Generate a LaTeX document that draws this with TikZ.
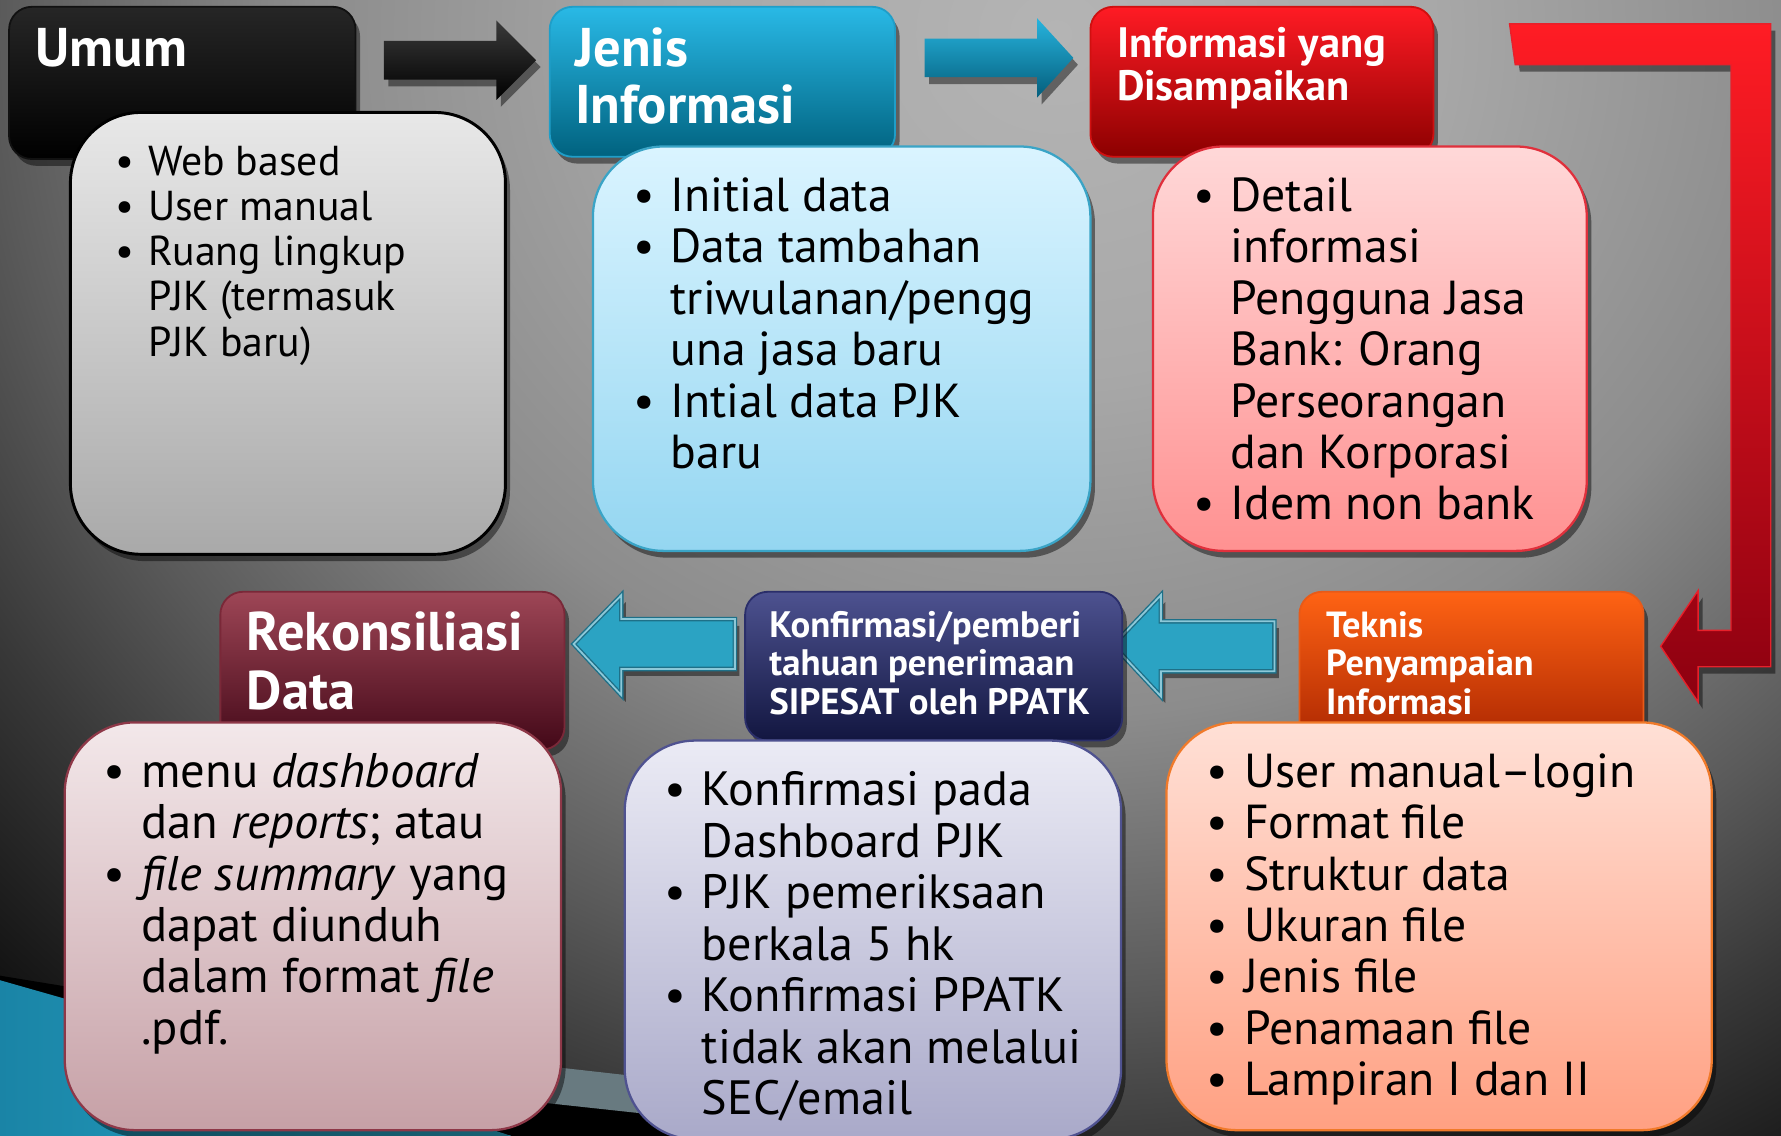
\documentclass[tikz,border=0pt]{standalone}
\usepackage{fontspec}
\setmainfont{PT Sans}
\usetikzlibrary{shadows,fit}
\definecolor{bgA}{HTML}{B4B4B4}
\definecolor{bgB}{HTML}{A8A8A8}
\definecolor{bgC}{HTML}{8C8C8C}
\definecolor{bgD}{HTML}{5A5A5A}
\definecolor{bgE}{HTML}{383838}
\definecolor{bgF}{HTML}{101010}
\definecolor{swA}{HTML}{1A84A6}
\definecolor{swB}{HTML}{2CB2D2}
\definecolor{swgray}{HTML}{687A80}
\definecolor{umHT}{HTML}{262626}\definecolor{umHB}{HTML}{000000}\definecolor{umHD}{HTML}{111111}
\definecolor{jeHT}{HTML}{29B9E6}\definecolor{jeHB}{HTML}{00627F}\definecolor{jeHD}{HTML}{1F9EC8}
\definecolor{inHT}{HTML}{FF1B24}\definecolor{inHB}{HTML}{8C0000}\definecolor{inHD}{HTML}{D01010}
\definecolor{teHT}{HTML}{FF6314}\definecolor{teHB}{HTML}{A82400}\definecolor{teHD}{HTML}{E85A18}
\definecolor{koHT}{HTML}{4D5290}\definecolor{koHB}{HTML}{121640}\definecolor{koHD}{HTML}{2A2E6A}
\definecolor{reHT}{HTML}{9E4656}\definecolor{reHB}{HTML}{430818}\definecolor{reHD}{HTML}{7A2838}
\definecolor{umBT}{HTML}{E8E8E8}\definecolor{umBB}{HTML}{A9A9A9}\definecolor{umBD}{HTML}{000000}
\definecolor{jeBT}{HTML}{DAF4FF}\definecolor{jeBB}{HTML}{94D6F1}\definecolor{jeBD}{HTML}{3AA4C6}
\definecolor{inBT}{HTML}{FFD8D8}\definecolor{inBB}{HTML}{FF9191}\definecolor{inBD}{HTML}{E0303C}
\definecolor{teBT}{HTML}{FFE0D6}\definecolor{teBB}{HTML}{FFA082}\definecolor{teBD}{HTML}{F07A2A}
\definecolor{koBT}{HTML}{EBEBF5}\definecolor{koBB}{HTML}{A9A9C9}\definecolor{koBD}{HTML}{4F5290}
\definecolor{reBT}{HTML}{F3E8EA}\definecolor{reBB}{HTML}{C6A0A6}\definecolor{reBD}{HTML}{8E3848}
\definecolor{arBlkT}{HTML}{3A3A3A}
\definecolor{arBluT}{HTML}{27B4DE}\definecolor{arBluB}{HTML}{045E7C}
\definecolor{arRedT}{HTML}{FF1C24}\definecolor{arRedB}{HTML}{8C0010}\definecolor{arRedD}{HTML}{E8202A}
\definecolor{cyF}{HTML}{2BA3C3}\definecolor{cyD}{HTML}{1E7088}\definecolor{cyL}{HTML}{8CC8D8}
\pgfdeclareradialshading{bgshade}{\pgfpoint{0bp}{0bp}}{color(0bp)=(bgA); color(3.75bp)=(bgB); color(7.5bp)=(bgC); color(10.6bp)=(bgD); color(12.5bp)=(bgE); color(15bp)=(bgF); color(50bp)=(bgF)}
\newcommand{\mybul}[1]{\makebox[#1][l]{\textbullet}}
\newcommand{\myind}[1]{\hspace*{#1}}
\tikzset{
  shad/.style={drop shadow={shadow xshift=2pt,shadow yshift=-3pt,opacity=0.45,fill=black}},
  hdr/.style={rounded corners=10pt, inner sep=0pt, line width=0.8pt, shad},
  bod/.style={rounded corners=31pt, inner sep=0pt, line width=1pt, shad},
  htxt/.style={anchor=base west, inner sep=0pt, text=white},
  btxt/.style={anchor=base west, inner sep=0pt, text=black},
  blkarrow/.style={top color=arBlkT, bottom color=black, shad},
  bluarrow/.style={top color=arBluT, bottom color=arBluB, shad},
  redarrow/.style={top color=arRedT, bottom color=arRedB, draw=arRedD, line width=0.6pt, shad},
  cyarrow/.style={fill=cyF, draw=cyD, double=cyL, double distance=0.8pt, line width=0.6pt, shad}
}
\begin{document}
\begin{tikzpicture}[x=0.5pt,y=-0.5pt]
\useasboundingbox (0,0) rectangle (1568,1000);
% background
\begin{scope}
\clip (0,0) rectangle (1568,1000);
\shade[shading=bgshade] (930,30) ellipse (2200 and 2000);
\fill[black] (0,859) -- (55,868) -- (250,915) -- (600,972) -- (600,1000) -- (0,1000) -- cycle;
\fill[swgray] (360,925) -- (600,952) -- (600,984) -- (360,958) -- cycle;
\shade[left color=swA, right color=swB] (0,863) -- (200,920) -- (450,1000) -- (0,1000) -- cycle;
\end{scope}
% block arrows
\shade[blkarrow] (338,36) -- (437,36) -- (437,18) -- (472,53) -- (437,88) -- (437,70) -- (338,70) -- cycle;
\shade[bluarrow] (814,34) -- (913,34) -- (913,16) -- (945,51) -- (913,86) -- (913,68) -- (814,68) -- cycle;
\shade[redarrow] (1329,21) -- (1559,21) -- (1559,587) -- (1495,587) -- (1495,618) -- (1462,569) -- (1495,520) -- (1495,555) -- (1524,555) -- (1524,57) -- (1334,57) -- cycle;
\filldraw[cyarrow] (1122,547) -- (1022,547) -- (1022,524) -- (980,568) -- (1022,613) -- (1022,591) -- (1122,591) -- cycle;
\filldraw[cyarrow] (647,545) -- (547,545) -- (547,524) -- (505,567) -- (547,612) -- (547,589) -- (647,589) -- cycle;
% headers
\node[hdr, fit={(8,6) (313,140)}, top color=umHT, bottom color=umHB, draw=umHD] (umumH) {};
\node[hdr, fit={(484,6) (788,138)}, top color=jeHT, bottom color=jeHB, draw=jeHD] (jenisH) {};
\node[hdr, fit={(960,6) (1262,138)}, top color=inHT, bottom color=inHB, draw=inHD] (infoH) {};
\node[hdr, fit={(1144,521) (1447,660)}, top color=teHT, bottom color=teHB, draw=teHD] (teknisH) {};
\node[hdr, fit={(656,521) (988,652)}, top color=koHT, bottom color=koHB, draw=koHD] (konfH) {};
\node[hdr, fit={(194,521) (497,660)}, top color=reHT, bottom color=reHB, draw=reHD] (rekonH) {};
% header texts
\node[htxt, font=\bfseries\fontsize{24}{25.25}\selectfont] (umumL) at (31,58.6) {Umum};
\node[htxt, font=\bfseries\fontsize{24}{25.25}\selectfont] (jenisL) at (506,58.6) {\begin{tabular}[t]{@{}l@{}}Jenis\\Informasi\end{tabular}};
\node[htxt, font=\bfseries\fontsize{18.7}{19}\selectfont] (infoL) at (983,50.5) {\begin{tabular}[t]{@{}l@{}}Informasi yang\\Disampaikan\end{tabular}};
\node[htxt, font=\bfseries\fontsize{16}{17}\selectfont] (teknisL) at (1167,561) {\begin{tabular}[t]{@{}l@{}}Teknis\\Penyampaian\\Informasi\end{tabular}};
\node[htxt, font=\bfseries\fontsize{16.2}{17}\selectfont] (konfL) at (677,561) {\begin{tabular}[t]{@{}l@{}}Konfirmasi/pemberi\\tahuan penerimaan\\SIPESAT oleh PPATK\end{tabular}};
\node[htxt, font=\bfseries\fontsize{24}{26}\selectfont] (rekonL) at (217,572.7) {\begin{tabular}[t]{@{}l@{}}Rekonsiliasi\\Data\end{tabular}};
% bodies
\node[bod, fit={(62,99) (445,488)}, top color=umBT, bottom color=umBB, draw=umBD, line width=1.3pt] (umumB) {};
\node[bod, fit={(522,129) (960,485)}, top color=jeBT, bottom color=jeBB, draw=jeBD] (jenisB) {};
\node[bod, fit={(1015,129) (1397,485)}, top color=inBT, bottom color=inBB, draw=inBD] (infoB) {};
\node[bod, fit={(1027,636) (1507,995)}, top color=teBT, bottom color=teBB, draw=teBD] (teknisB) {};
\node[bod, fit={(550,652) (987,1003)}, top color=koBT, bottom color=koBB, draw=koBD] (konfB) {};
\node[bod, fit={(57,636) (494,995)}, top color=reBT, bottom color=reBB, draw=reBD] (rekonB) {};
% body texts
\node[btxt, font=\fontsize{18.4}{19.85}\selectfont] (umumT) at (101,154.7) {\begin{tabular}[t]{@{}l@{}}
\mybul{14.5pt}Web based\\
\mybul{14.5pt}User manual\\
\mybul{14.5pt}Ruang lingkup\\
\myind{14.5pt}PJK (termasuk\\
\myind{14.5pt}PJK baru)\end{tabular}};
\node[btxt, font=\fontsize{21}{22.65}\selectfont] (jenisT) at (557,186) {\begin{tabular}[t]{@{}l@{}}
\mybul{16.5pt}Initial data\\
\mybul{16.5pt}Data tambahan\\
\myind{16.5pt}triwulanan/pengg\\
\myind{16.5pt}una jasa baru\\
\mybul{16.5pt}Intial data PJK\\
\myind{16.5pt}baru\end{tabular}};
\node[btxt, font=\fontsize{21}{22.65}\selectfont] (infoT) at (1050,186) {\begin{tabular}[t]{@{}l@{}}
\mybul{16.5pt}Detail\\
\myind{16.5pt}informasi\\
\myind{16.5pt}Pengguna Jasa\\
\myind{16.5pt}Bank: Orang\\
\myind{16.5pt}Perseorangan\\
\myind{16.5pt}dan Korporasi\\
\mybul{16.5pt}Idem non bank\end{tabular}};
\node[btxt, font=\fontsize{21}{22.65}\selectfont] (teknisT) at (1062,693) {\begin{tabular}[t]{@{}l@{}}
\mybul{16.5pt}User manual–login\\
\mybul{16.5pt}Format file\\
\mybul{16.5pt}Struktur data\\
\mybul{16.5pt}Ukuran file\\
\mybul{16.5pt}Jenis file\\
\mybul{16.5pt}Penamaan file\\
\mybul{16.5pt}Lampiran I dan II\end{tabular}};
\node[btxt, font=\fontsize{21.2}{22.65}\selectfont] (konfT) at (584.5,709.5) {\begin{tabular}[t]{@{}l@{}}
\mybul{16.5pt}Konfirmasi pada\\
\myind{16.5pt}Dashboard PJK\\
\mybul{16.5pt}PJK pemeriksaan\\
\myind{16.5pt}berkala 5 hk\\
\mybul{16.5pt}Konfirmasi PPATK\\
\myind{16.5pt}tidak akan melalui\\
\myind{16.5pt}SEC/email\end{tabular}};
\node[btxt, font=\fontsize{21.4}{22.65}\selectfont] (rekonT) at (91,693) {\begin{tabular}[t]{@{}l@{}}
\mybul{16.5pt}menu \textit{dashboard}\\
\myind{16.5pt}dan \textit{reports}; atau\\
\mybul{16.5pt}\textit{file summary} yang\\
\myind{16.5pt}dapat diunduh\\
\myind{16.5pt}dalam format \textit{file}\\
\myind{16.5pt}.pdf.\end{tabular}};
\end{tikzpicture}
\end{document}
